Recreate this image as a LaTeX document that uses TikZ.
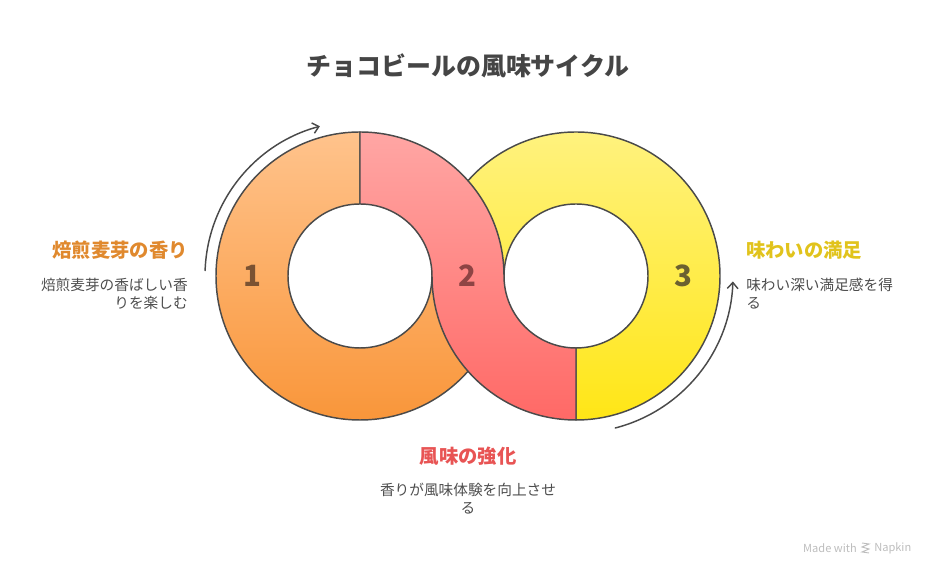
\documentclass[tikz,border=0pt]{standalone}
\usepackage{fontspec}
\setmainfont{Noto Sans CJK JP}
\usetikzlibrary{arrows.meta}
\definecolor{strokec}{HTML}{4A4A4A}
\definecolor{orgtop}{HTML}{FFC38C}
\definecolor{orgbot}{HTML}{F9963A}
\definecolor{redtop}{HTML}{FFA6A4}
\definecolor{redbot}{HTML}{FF6966}
\definecolor{yeltop}{HTML}{FFF27E}
\definecolor{yelbot}{HTML}{FFE616}
\definecolor{orglab}{HTML}{E0892E}
\definecolor{redlab}{HTML}{E85454}
\definecolor{yellab}{HTML}{E1C31C}
\definecolor{titlec}{HTML}{454545}
\definecolor{descc}{HTML}{4D4D4D}
\definecolor{numone}{HTML}{7A5232}
\definecolor{numtwo}{HTML}{8E4444}
\definecolor{numthree}{HTML}{6B6030}
\definecolor{wmark}{HTML}{BDBDBD}
\tikzset{
  ringseg/.style={draw=strokec, line width=1.1pt, line join=round},
  cyclearrow/.style={draw=strokec, line width=1.1pt, line cap=round, -{Straight Barb[length=4.5pt,width=8pt]}},
  numlabel/.style={font=\bfseries\fontsize{22}{26}\selectfont},
  headlabel/.style={font=\bfseries\fontsize{14.5}{17}\selectfont, inner sep=0pt},
  desclabel/.style={font=\fontsize{11}{13.5}\selectfont, text=descc, inner sep=0pt},
}
\begin{document}
\begin{tikzpicture}[x=0.75pt,y=0.75pt]
\useasboundingbox (0,0) rectangle (936,577);
% centres
\coordinate (cl) at (360,301);
\coordinate (cr) at (576,301);
% orange segment (left ring, 90 -> 360)
\path[ringseg, top color=orgtop, bottom color=orgbot]
  (360,445) arc[start angle=90, end angle=360, radius=144]
  -- (432,301) arc[start angle=360, end angle=90, radius=72] -- cycle;
% yellow segment (right ring, -90 -> 180)
\path[ringseg, top color=yeltop, bottom color=yelbot]
  (576,157) arc[start angle=-90, end angle=180, radius=144]
  -- (504,301) arc[start angle=180, end angle=-90, radius=72] -- cycle;
% red S segment
\path[ringseg, top color=redtop, bottom color=redbot]
  (360,445) arc[start angle=90, end angle=0, radius=144]
  arc[start angle=180, end angle=270, radius=72]
  -- (576,157) arc[start angle=270, end angle=180, radius=144]
  arc[start angle=0, end angle=90, radius=72] -- cycle;
% numbers
\node[numlabel, text=numone] (n1) at (252,301) {1};
\node[numlabel, text=numtwo] (n2) at (467,301) {2};
\node[numlabel, text=numthree] (n3) at (683,301) {3};
% cycle arrows
\coordinate (la0) at ([shift={(178:155)}]cl);
\coordinate (ra0) at ([shift={(-75.5:157)}]cr);
\draw[cyclearrow] (la0) arc[start angle=178, end angle=105, radius=155];
\draw[cyclearrow] (ra0) arc[start angle=-75.5, end angle=-2, radius=157];
% title
\node[font=\bfseries\fontsize{18.7}{22}\selectfont, text=titlec] (title) at (468,511) {チョコビールの風味サイクル};
% left labels
\node[headlabel, text=orglab, anchor=east] (h1) at (188,327) {焙煎麦芽の香り};
\node[desclabel, align=right, anchor=east] (d1) at (188,283) {焙煎麦芽の香ばしい香\\りを楽しむ};
% right labels
\node[headlabel, text=yellab, anchor=west] (h3) at (746,327) {味わいの満足};
\node[desclabel, align=left, anchor=west] (d3) at (746,283) {味わい深い満足感を得\\る};
% bottom labels
\node[headlabel, text=redlab] (h2) at (468,121) {風味の強化};
\node[desclabel, align=center] (d2) at (468,78) {香りが風味体験を向上させ\\る};
% watermark
\node[font=\fontsize{8.3}{10}\selectfont, text=wmark, anchor=east, inner sep=0pt] (wm1) at (857,29) {Made with};
\node[font=\fontsize{8.3}{10}\selectfont, text=wmark, anchor=west, inner sep=0pt] (wm2) at (874,29) {Napkin};
\draw[wmark, line width=0.7pt] (862,34) -- (869,33) -- (862,30) -- (869,28) -- (862,25) -- (869,24);
\end{tikzpicture}
\end{document}
